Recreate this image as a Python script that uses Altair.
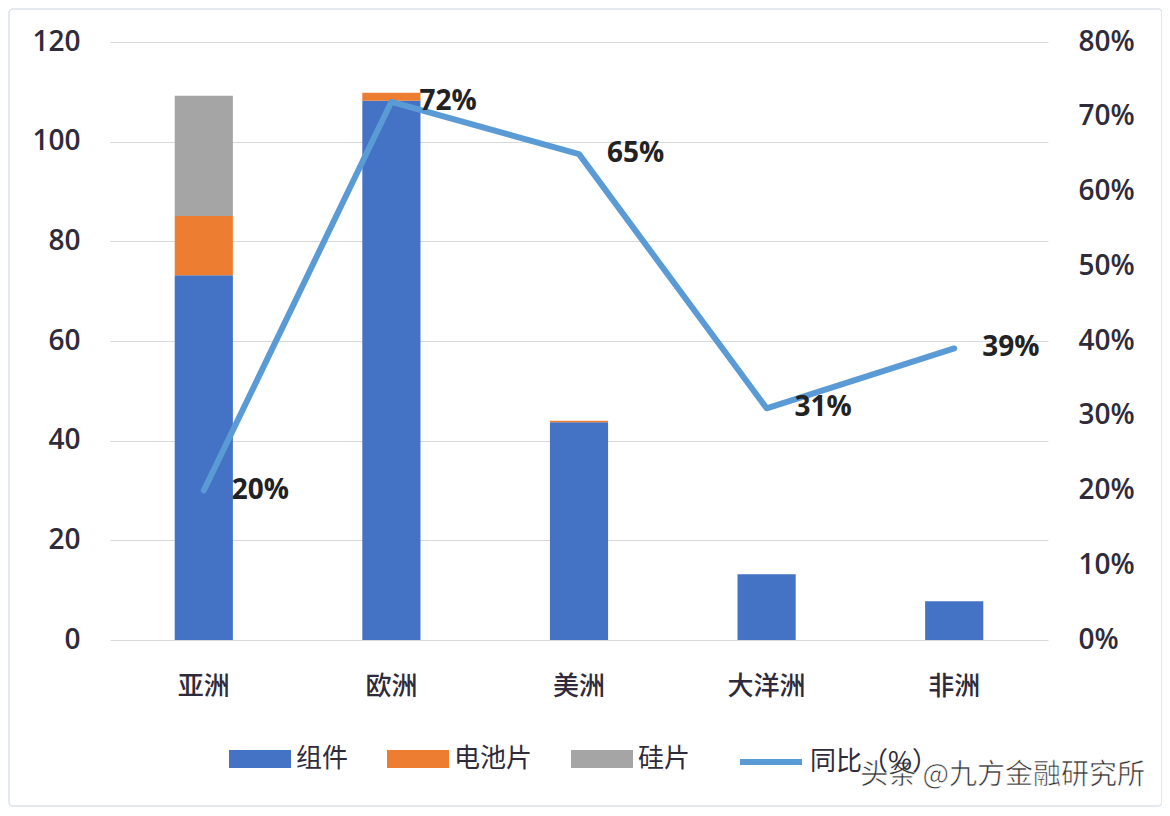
import altair as alt
import pandas as pd

regions = ["亚洲", "欧洲", "美洲", "大洋洲", "非洲"]
series = ["组件", "电池片", "硅片"]
module_vals = [73.2, 108.2, 43.7, 13.2, 7.8]
cell_vals = [11.9, 1.6, 0.3, 0.0, 0.0]
wafer_vals = [24.1, 0.0, 0.0, 0.0, 0.0]
yoy_vals = [0.20, 0.72, 0.65, 0.31, 0.39]
yoy_name = "同比（%）"
left_ticks = [0, 20, 40, 60, 80, 100, 120]
right_ticks = [0, 0.1, 0.2, 0.3, 0.4, 0.5, 0.6, 0.7, 0.8]
watermark = "头条 @九方金融研究所"

colors = ["#4472C4", "#ED7D31", "#A5A5A5"]
line_color = "#5B9BD5"
text_color = "#2f2b3a"

rows = []
for i, r in enumerate(regions):
    for j, (s, vals) in enumerate(zip(series, [module_vals, cell_vals, wafer_vals])):
        rows.append({"region": r, "series": s, "value": vals[i], "order": j})
bars_df = pd.DataFrame(rows)
line_df = pd.DataFrame({"region": regions, "yoy": yoy_vals, "name": yoy_name})

W, H = 938, 598
num_font = "Open Sans"
cjk_font = "Noto Sans CJK SC"

xenc = alt.X("region:N", sort=regions,
             scale=alt.Scale(paddingInner=0.69, paddingOuter=0.345),
             axis=alt.Axis(title=None, labelAngle=0, labelFont=cjk_font, labelFontSize=26,
                           labelFontWeight=500, labelColor=text_color, labelPadding=33,
                           ticks=False, domain=False))

rect_path = "M-1,-0.29L1,-0.29L1,0.29L-1,0.29Z"

bars = alt.Chart(bars_df).mark_bar().encode(
    x=xenc,
    y=alt.Y("value:Q", stack="zero",
            scale=alt.Scale(domain=[0, 120]),
            axis=alt.Axis(title=None, orient="left", values=left_ticks, labelFont=num_font,
                          labelFontSize=28, labelFontWeight=600, labelColor=text_color,
                          grid=True, gridColor="#d9d9d9", domain=False, ticks=False,
                          labelPadding=30)),
    color=alt.Color("series:N", sort=series,
                    scale=alt.Scale(domain=series, range=colors),
                    legend=alt.Legend(title=None, orient="none", direction="horizontal",
                                      legendX=119, legendY=686, padding=0,
                                      symbolType=rect_path, symbolSize=3844,
                                      symbolStrokeWidth=0,
                                      labelFont=cjk_font, labelFontSize=26,
                                      labelColor=text_color, labelOffset=5,
                                      columnPadding=38)),
    order=alt.Order("order:Q"),
)

line_y = alt.Y("yoy:Q", scale=alt.Scale(domain=[0, 0.8]),
               axis=alt.Axis(title=None, orient="right", values=right_ticks, format=".0%",
                             labelFont=num_font, labelFontSize=28, labelFontWeight=600,
                             labelColor=text_color, grid=False, domain=False, ticks=False,
                             labelPadding=30))

line = alt.Chart(line_df).mark_line(strokeWidth=6, strokeJoin="round", strokeCap="round").encode(
    x=alt.X("region:N", sort=regions),
    y=line_y,
    stroke=alt.Stroke("name:N", scale=alt.Scale(domain=[yoy_name], range=[line_color]),
                      legend=alt.Legend(title=None, orient="none", legendX=627, legendY=686,
                                        padding=0, symbolType="stroke", symbolSize=3844,
                                        symbolStrokeWidth=6,
                                        labelFont=cjk_font, labelFontSize=26,
                                        labelColor=text_color, labelOffset=5)),
)

labels = alt.Chart(line_df).mark_text(align="left", baseline="middle", dx=28,
                                      font=num_font, fontSize=28, fontWeight="bold",
                                      color="#222222").encode(
    x=alt.X("region:N", sort=regions),
    y=alt.Y("yoy:Q", scale=alt.Scale(domain=[0, 0.8]), axis=None),
    text=alt.Text("yoy:Q", format=".0%"),
)

deco_df = pd.DataFrame({"t": [watermark]})
border = alt.Chart(deco_df).mark_rect(fill="transparent", stroke="#dce2ea", strokeWidth=1.5,
                                      cornerRadius=4).encode(
    x=alt.value(-101), x2=alt.value(1052), y=alt.value(-33), y2=alt.value(764))

wm = alt.Chart(deco_df).mark_text(align="right", baseline="middle", font=cjk_font,
                                  fontSize=28, color="#333333", stroke="white",
                                  strokeWidth=0.6).encode(
    x=alt.value(1035), y=alt.value(734), text="t:N")

chart = alt.layer(border, bars, line, labels, wm).resolve_scale(
    y="independent", color="independent"
).properties(
    width=W, height=H,
    autosize=alt.AutoSizeParams(type="none"),
    padding={"left": 102, "top": 34, "right": 114, "bottom": 168},
    background="white",
).configure_view(stroke=None)

chart.save("out.html", embed_options={"renderer": "svg", "actions": False})
